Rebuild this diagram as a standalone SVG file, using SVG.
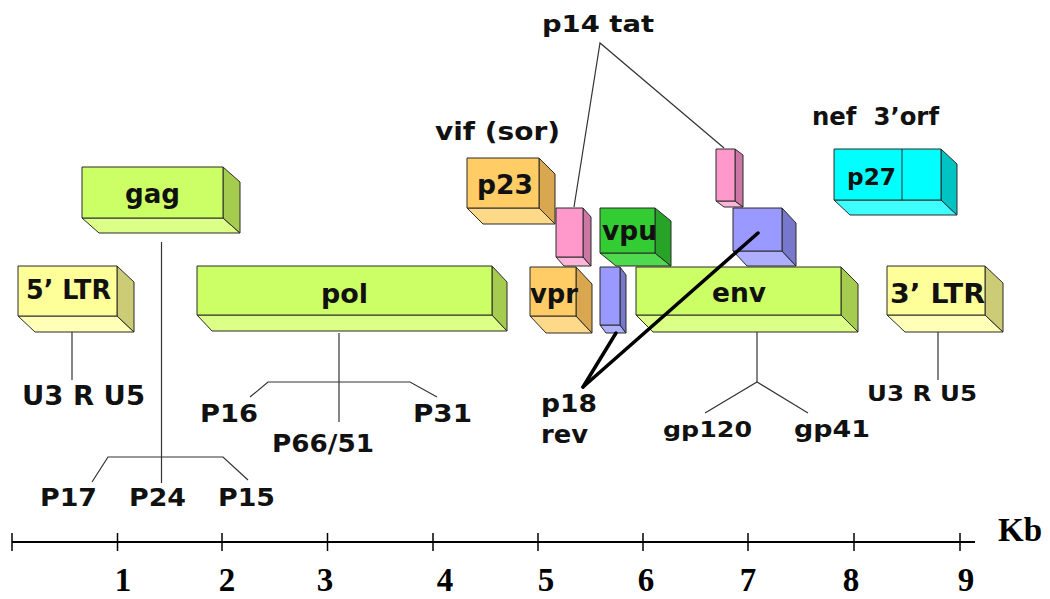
<svg xmlns="http://www.w3.org/2000/svg" width="1050" height="599" viewBox="0 0 1050 599">
<style>
.o{stroke:#2a2a2a;stroke-width:1;stroke-linejoin:round}
.t{font-family:"DejaVu Sans",Verdana,sans-serif;font-weight:bold;fill:#111}
.n{font-family:"Liberation Serif","Times New Roman",serif;font-weight:bold;font-size:33px;fill:#000;text-anchor:middle}
.ln{stroke:#333;stroke-width:1.2;fill:none}
.thk{stroke:#000;stroke-width:3.5;fill:none;stroke-linecap:round}
.gF{fill:#ccff66}.gS{fill:#a6cc4f}.gB{fill:#dcff88}
.yF{fill:#ffff99}.yS{fill:#cccc77}.yB{fill:#ffffb8}
.oF{fill:#ffcc66}.oS{fill:#d9a74f}.oB{fill:#ffd98a}
.pF{fill:#ff99cc}.pS{fill:#cc77a3}.pB{fill:#ffb5da}
.vF{fill:#33cc33}.vS{fill:#27a327}.vB{fill:#4fd94f}
.bF{fill:#9999ff}.bS{fill:#7777cc}.bB{fill:#aeaeff}
.cF{fill:#00ffff}.cS{fill:#00c4c4}.cB{fill:#3dffff}
</style>
<rect width="1050" height="599" fill="#fff"/>

<g id="gag">
<polygon class="o gB" points="82,218 223,218 240,233 99,233"/>
<polygon class="o gS" points="223,167 240,182 240,233 223,218"/>
<rect class="o gF" x="82" y="167" width="141" height="51"/>
<text class="t" x="125" y="203" font-size="26" textLength="55" lengthAdjust="spacingAndGlyphs">gag</text>
</g>

<g id="ltr5">
<polygon class="o yB" points="18,316 117,316 134,332 35,332"/>
<polygon class="o yS" points="117,266 134,282 134,332 117,316"/>
<rect class="o yF" x="18" y="266" width="99" height="50"/>
<text class="t" x="26" y="299" font-size="26" textLength="85" lengthAdjust="spacingAndGlyphs">5’ LTR</text>
</g>

<g id="pol">
<polygon class="o gB" points="197,315 492,315 507,331 212,331"/>
<polygon class="o gS" points="492,266 507,282 507,331 492,315"/>
<rect class="o gF" x="197" y="266" width="295" height="49"/>
<text class="t" x="321" y="303" font-size="26" textLength="47" lengthAdjust="spacingAndGlyphs">pol</text>
</g>

<g id="p23">
<polygon class="o oB" points="467,208 539,208 555,224 483,224"/>
<polygon class="o oS" points="539,158 555,174 555,224 539,208"/>
<rect class="o oF" x="467" y="158" width="72" height="50"/>
<text class="t" x="477" y="194" font-size="26" textLength="56" lengthAdjust="spacingAndGlyphs">p23</text>
</g>

<g id="tat1">
<polygon class="o pB" points="556,257 583,257 591,266 564,266"/>
<polygon class="o pS" points="583,208 591,217 591,266 583,257"/>
<rect class="o pF" x="556" y="208" width="27" height="49"/>
</g>

<g id="vpu">
<polygon class="o vB" points="600,253 655,253 671,266 616,266"/>
<polygon class="o vS" points="655,208 671,221 671,266 655,253"/>
<rect class="o vF" x="600" y="208" width="55" height="45"/>
<text class="t" x="602" y="240" font-size="26" textLength="55" lengthAdjust="spacingAndGlyphs">vpu</text>
</g>

<g id="vpr">
<polygon class="o oB" points="530,316 576,316 592,333 546,333"/>
<polygon class="o oS" points="576,267 592,284 592,333 576,316"/>
<rect class="o oF" x="530" y="267" width="46" height="49"/>
<text class="t" x="530" y="303" font-size="26" textLength="48" lengthAdjust="spacingAndGlyphs">vpr</text>
</g>

<g id="rev1">
<polygon class="o bB" points="600,325 620,325 626,333 606,333"/>
<polygon class="o bS" points="620,267 626,275 626,333 620,325"/>
<rect class="o bF" x="600" y="267" width="20" height="58"/>
</g>

<g id="env">
<polygon class="o gB" points="636,315 841,315 858,332 653,332"/>
<polygon class="o gS" points="841,267 858,284 858,332 841,315"/>
<rect class="o gF" x="636" y="267" width="205" height="48"/>
<text class="t" x="712" y="302" font-size="26" textLength="54" lengthAdjust="spacingAndGlyphs">env</text>
</g>

<g id="tat2">
<polygon class="o pB" points="716,201 735,201 743,207 724,207"/>
<polygon class="o pS" points="735,149 743,155 743,207 735,201"/>
<rect class="o pF" x="716" y="149" width="19" height="52"/>
</g>

<g id="rev2">
<polygon class="o bB" points="733,251 782,251 796,266 747,266"/>
<polygon class="o bS" points="782,208 796,223 796,266 782,251"/>
<rect class="o bF" x="733" y="208" width="49" height="43"/>
</g>

<g id="p27">
<polygon class="o cB" points="834,200 941,200 957,215 850,215"/>
<polygon class="o cS" points="941,149 957,164 957,215 941,200"/>
<rect class="o cF" x="834" y="149" width="107" height="51"/>
<line class="o" x1="902" y1="149" x2="902" y2="200"/>
<text class="t" x="847" y="185" font-size="23" textLength="49" lengthAdjust="spacingAndGlyphs">p27</text>
</g>

<g id="ltr3">
<polygon class="o yB" points="887,315 985,315 1003,332 905,332"/>
<polygon class="o yS" points="985,266 1003,283 1003,332 985,315"/>
<rect class="o yF" x="887" y="266" width="98" height="49"/>
<text class="t" x="890" y="303" font-size="27" textLength="95" lengthAdjust="spacingAndGlyphs">3’ LTR</text>
</g>

<g id="connectors">
<polyline class="ln" points="161.5,242 161.5,483"/>
<polyline class="ln" points="92,482 108,457 223,457 248,480"/>
<line class="ln" x1="72" y1="332" x2="72" y2="380"/>
<line class="ln" x1="339" y1="333" x2="339" y2="422"/>
<polyline class="ln" points="250,397 268,382 410,382 437,397"/>
<line class="ln" x1="757" y1="332" x2="757" y2="382"/>
<polyline class="ln" points="705,413 757,382 808,413"/>
<line class="ln" x1="938" y1="332" x2="938" y2="380"/>
<polyline class="ln" points="574,207 600,43 724,148"/>
<line class="thk" x1="583" y1="387" x2="616" y2="333"/>
<line class="thk" x1="583" y1="387" x2="758" y2="233"/>
</g>

<g id="labels">
<text class="t" x="542" y="32" font-size="23" textLength="112" lengthAdjust="spacingAndGlyphs">p14 tat</text>
<text class="t" x="435" y="140" font-size="24" textLength="125" lengthAdjust="spacingAndGlyphs">vif (sor)</text>
<text class="t" x="812" y="125" font-size="24" textLength="127" lengthAdjust="spacingAndGlyphs" xml:space="preserve">nef  3’orf</text>
<text class="t" x="22" y="405" font-size="27" textLength="123" lengthAdjust="spacingAndGlyphs">U3 R U5</text>
<text class="t" x="200" y="422" font-size="25" textLength="58" lengthAdjust="spacingAndGlyphs">P16</text>
<text class="t" x="413" y="422" font-size="25" textLength="59" lengthAdjust="spacingAndGlyphs">P31</text>
<text class="t" x="272" y="452" font-size="25" textLength="102" lengthAdjust="spacingAndGlyphs">P66/51</text>
<text class="t" x="40" y="506" font-size="25" textLength="57" lengthAdjust="spacingAndGlyphs">P17</text>
<text class="t" x="129" y="506" font-size="25" textLength="57" lengthAdjust="spacingAndGlyphs">P24</text>
<text class="t" x="218" y="506" font-size="25" textLength="57" lengthAdjust="spacingAndGlyphs">P15</text>
<text class="t" x="541" y="412" font-size="25" textLength="56" lengthAdjust="spacingAndGlyphs">p18</text>
<text class="t" x="541" y="443" font-size="25" textLength="47" lengthAdjust="spacingAndGlyphs">rev</text>
<text class="t" x="663" y="437" font-size="22" textLength="89" lengthAdjust="spacingAndGlyphs">gp120</text>
<text class="t" x="794" y="437" font-size="23" textLength="76" lengthAdjust="spacingAndGlyphs">gp41</text>
<text class="t" x="867" y="401" font-size="22" textLength="110" lengthAdjust="spacingAndGlyphs">U3 R U5</text>
</g>

<g id="axis">
<line x1="12" y1="542" x2="975" y2="542" stroke="#000" stroke-width="2"/>
<g stroke="#000" stroke-width="1.5">
<line x1="12" y1="533" x2="12" y2="551"/>
<line x1="117.5" y1="533" x2="117.5" y2="551"/>
<line x1="222" y1="533" x2="222" y2="551"/>
<line x1="327.5" y1="533" x2="327.5" y2="551"/>
<line x1="433" y1="533" x2="433" y2="551"/>
<line x1="538" y1="533" x2="538" y2="551"/>
<line x1="643" y1="533" x2="643" y2="551"/>
<line x1="748" y1="533" x2="748" y2="551"/>
<line x1="854" y1="533" x2="854" y2="551"/>
<line x1="960" y1="533" x2="960" y2="551"/>
</g>
<text class="n" x="123" y="591">1</text>
<text class="n" x="227" y="591">2</text>
<text class="n" x="325" y="591">3</text>
<text class="n" x="445" y="591">4</text>
<text class="n" x="546" y="591">5</text>
<text class="n" x="646" y="591">6</text>
<text class="n" x="748" y="591">7</text>
<text class="n" x="851" y="591">8</text>
<text class="n" x="966" y="591">9</text>
<text class="n" x="1020" y="541" font-size="36">Kb</text>
</g>
</svg>
